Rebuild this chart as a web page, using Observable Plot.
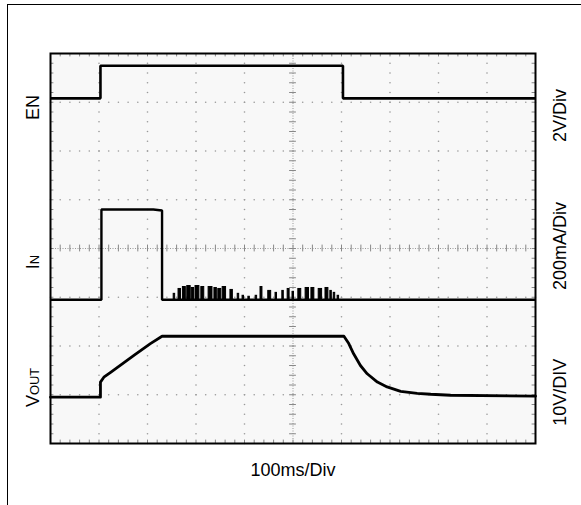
<!DOCTYPE html>
<html><head><meta charset="utf-8">
<script src="https://cdn.jsdelivr.net/npm/d3@7"></script>
<script src="https://cdn.jsdelivr.net/npm/@observablehq/plot@0.6"></script>
<style>
body{margin:0;background:#fff;}
#wrap{position:relative;width:581px;height:505px;overflow:hidden;}
#chart{position:absolute;left:0;top:0;}
#border{position:absolute;left:7px;top:4px;width:600px;height:600px;border-top:1px solid #000;border-left:1px solid #000;pointer-events:none;}
</style></head><body>
<div id="wrap"><div id="chart"></div><div id="border"></div></div>
<script>
// ---- data (x in divisions of 100ms, y in screen divisions) ----
const enT = [0, 1.03, 1.03, 6.03, 6.03, 10];
const enV = [7.08, 7.08, 7.75, 7.75, 7.08, 7.08];

const inT = [0, 1.05, 1.05, 2.12, 2.30, 2.30, 10];
const inV = [2.95, 2.95, 4.80, 4.80, 4.78, 2.95, 2.95];
const inBase = 2.95;
const spikeT = [2.54, 2.64, 2.73, 2.82, 2.91, 2.99, 3.11, 3.26, 3.38, 3.46, 3.55, 3.71, 3.86, 3.96, 4.08, 4.23, 4.33, 4.49, 4.64, 4.78, 4.89, 4.99, 5.11, 5.26, 5.38, 5.53, 5.67, 5.77, 5.84, 5.92];
const spikeH = [0.12, 0.22, 0.26, 0.28, 0.24, 0.28, 0.26, 0.26, 0.24, 0.22, 0.26, 0.20, 0.12, 0.08, 0.06, 0.08, 0.26, 0.18, 0.14, 0.18, 0.22, 0.16, 0.22, 0.24, 0.24, 0.22, 0.24, 0.18, 0.14, 0.08];
const spikeW = [0.03, 0.05, 0.06, 0.07, 0.05, 0.08, 0.06, 0.08, 0.05, 0.06, 0.07, 0.05, 0.03, 0.03, 0.03, 0.03, 0.04, 0.06, 0.03, 0.03, 0.04, 0.03, 0.06, 0.07, 0.06, 0.07, 0.06, 0.03, 0.03, 0.03];

const voutT = [0, 1.03, 1.03, 1.10, 1.24, 1.72, 2.06, 2.30, 6.05, 6.15, 6.25, 6.39, 6.53, 6.74, 6.94, 7.22, 7.56, 7.84, 8.25, 10];
const voutV = [0.95, 0.95, 1.26, 1.36, 1.46, 1.81, 2.05, 2.20, 2.20, 2.05, 1.84, 1.60, 1.43, 1.26, 1.16, 1.07, 1.03, 1.01, 0.99, 0.97];

const leftMain = ["EN", "I", "V"];
const leftSub = ["", "N", "OUT"];
const leftPos = [6.89, 3.72, 1.15];
const rightLabels = ["2V/Div", "200mA/Div", "10V/DIV"];
const rightPos = [6.73, 4.05, 1.05];
const xLabel = "100ms/Div";

// ---- build tables ----
const en = enT.map((t, i) => ({t, v: enV[i]}));
const inn = inT.map((t, i) => ({t, v: inV[i]}));
const spikes = spikeT.map((t, i) => ({t1: t, t2: t + spikeW[i], top: inBase + spikeH[i]}));
const vout = voutT.map((t, i) => ({t, v: voutV[i]}));

const subX = d3.range(0, 50.5, 1).map(d => d / 5);
const subY = d3.range(0, 40.5, 1).map(d => d / 5);
const gridDots = [];
for (let k = 1; k <= 9; k++) if (k !== 5) subY.forEach(y => gridDots.push({x: k, y}));
for (let k = 1; k <= 7; k++) if (k !== 4) subX.forEach(x => gridDots.push({x, y: k}));

const left = leftMain.map((m, i) => ({m, s: leftSub[i], pos: leftPos[i]}));
const right = rightLabels.map((l, i) => ({l, pos: rightPos[i]}));

const font = "Liberation Sans, Arial, Helvetica, sans-serif";
const tickLen = 0.07, edgeLen = 0.07;

const plot = Plot.plot({
  width: 581, height: 505,
  marginLeft: 50, marginTop: 53, marginRight: 46, marginBottom: 62,
  x: {domain: [0, 10], axis: null},
  y: {domain: [0, 8], axis: null},
  style: {fontFamily: font, background: "transparent"},
  marks: [
    Plot.frame({fill: "#f8f8f8", stroke: null}),
    Plot.dot(gridDots, {x: "x", y: "y", r: 0.8, fill: "#999", stroke: null}),
    Plot.ruleX([5], {stroke: "#999", strokeDasharray: "1,1.5"}),
    Plot.ruleY([4], {stroke: "#999", strokeDasharray: "1,1.5"}),
    Plot.ruleX(subX, {x: d => d, y1: 4 - tickLen, y2: 4 + tickLen, stroke: "#888"}),
    Plot.ruleY(subY, {y: d => d, x1: 5 - tickLen, x2: 5 + tickLen, stroke: "#888"}),
    Plot.ruleX(subX, {x: d => d, y1: 8, y2: 8 - edgeLen, stroke: "#888"}),
    Plot.ruleX(subX, {x: d => d, y1: 0, y2: edgeLen, stroke: "#888"}),
    Plot.ruleY(subY, {y: d => d, x1: 0, x2: edgeLen, stroke: "#888"}),
    Plot.ruleY(subY, {y: d => d, x1: 10, x2: 10 - edgeLen, stroke: "#888"}),
    Plot.frame({stroke: "black", strokeWidth: 2}),
    Plot.line(en, {x: "t", y: "v", stroke: "black", strokeWidth: 2.6, strokeLinejoin: "miter", strokeLinecap: "butt"}),
    Plot.rect(spikes, {x1: "t1", x2: "t2", y1: inBase, y2: "top", fill: "black", stroke: "black", strokeWidth: 1}),
    Plot.line(inn, {x: "t", y: "v", stroke: "black", strokeWidth: 2.4, strokeLinejoin: "miter", strokeLinecap: "butt"}),
    Plot.line(vout, {x: "t", y: "v", stroke: "black", strokeWidth: 2.8, strokeLinejoin: "round"}),
    Plot.text(left, {y: "pos", text: d => d.m + d.s, frameAnchor: "left", textAnchor: "middle", dx: -17.5, rotate: -90, fontSize: 18, fill: "black"}),
    Plot.text(right, {y: "pos", text: "l", frameAnchor: "right", textAnchor: "middle", dx: 25, rotate: -90, fontSize: 18, fill: "black"}),
    Plot.text([xLabel], {text: d => d, frameAnchor: "bottom", dy: 32, fontSize: 18, fill: "black"})
  ]
});
document.getElementById("chart").appendChild(plot);

// subscripts for IN / VOUT
d3.select(plot).selectAll("text").each(function() {
  const txt = this.textContent;
  const d = left.find(e => e.s && e.m + e.s === txt);
  if (d) {
    const sel = d3.select(this);
    sel.text(null);
    sel.append("tspan").text(d.m);
    sel.append("tspan").attr("font-size", "0.72em").text(d.s);
  }
});
</script>
</body></html>
